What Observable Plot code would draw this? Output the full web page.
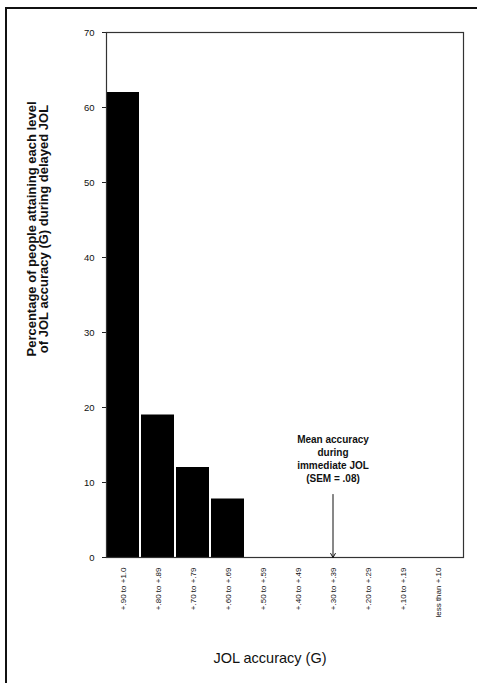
<!DOCTYPE html>
<html>
<head>
<meta charset="utf-8">
<script src="https://cdn.jsdelivr.net/npm/d3@7"></script>
<script src="https://cdn.jsdelivr.net/npm/@observablehq/plot@0.6"></script>
<style>
  html, body { margin: 0; padding: 0; background: #fff; }
  #wrap { position: relative; width: 477px; height: 683px; overflow: hidden; }
  #border { position: absolute; left: 5px; top: 7px; width: 500px; height: 700px;
            border-left: 2px solid #111; border-top: 2px solid #111; pointer-events: none; }
</style>
</head>
<body>
<div id="wrap"><div id="border"></div></div>
<script>
const categories = ["+.90 to +1.0", "+.80 to +.89", "+.70 to +.79", "+.60 to +.69", "+.50 to +.59",
  "+.40 to +.49", "+.30 to +.39", "+.20 to +.29", "+.10 to +.19", "less than +.10"];
const percentages = [62, 19, 12, 7.8, 0, 0, 0, 0, 0, 0];
const yTicks = [0, 10, 20, 30, 40, 50, 60, 70];
const meanCategory = "+.30 to +.39";
const annotationText = "Mean accuracy\nduring\nimmediate JOL\n(SEM = .08)";
const yLabel = "Percentage of people attaining each level\nof JOL accuracy (G) during delayed JOL";
const xLabel = "JOL accuracy (G)";

const data = categories.map((c, i) => ({category: c, value: percentages[i]}));

const chart = Plot.plot({
  width: 477,
  height: 683,
  marginLeft: 106,
  marginRight: 14,
  marginTop: 32,
  marginBottom: 126,
  style: {fontFamily: "'Liberation Sans', Arial, sans-serif", background: "#fff", color: "#111"},
  x: {domain: categories, paddingInner: 0.07, paddingOuter: 0.02, align: 0, label: null},
  y: {domain: [0, 70], label: null},
  marks: [
    Plot.barY(data.filter(d => d.value > 0), {x: "category", y: "value", fill: "#000"}),
    Plot.frame({stroke: "#333", strokeWidth: 1.2}),
    Plot.axisY({ticks: yTicks, tickSize: 4, tickPadding: 8, fontSize: 9.5, label: null, stroke: "#222"}),
    Plot.axisX({tickSize: 0, tickPadding: 10, tickRotate: -90, fontSize: 8, label: null}),
    Plot.arrow([{category: meanCategory}], {
      x1: "category", x2: "category", y1: () => 8.4, y2: () => 0,
      stroke: "#111", strokeWidth: 1, headLength: 7, bend: 0
    }),
    Plot.text([{category: meanCategory}], {
      x: "category", y: () => 16.5, text: () => annotationText,
      fontSize: 10, lineHeight: 1.3, lineAnchor: "top", fill: "#111", fontWeight: "bold"
    }),
    Plot.text([yLabel], {
      frameAnchor: "left", textAnchor: "middle", text: d => d, rotate: -90, dx: -68, dy: -66,
      fontSize: 13, fontWeight: "bold", lineHeight: 0.9, fill: "#111"
    }),
    Plot.text([xLabel], {
      frameAnchor: "bottom", text: d => d, dy: 105, dx: -15,
      fontSize: 14.5, fill: "#111", fontWeight: 500
    })
  ]
});
document.getElementById("wrap").prepend(chart);
</script>
</body>
</html>
